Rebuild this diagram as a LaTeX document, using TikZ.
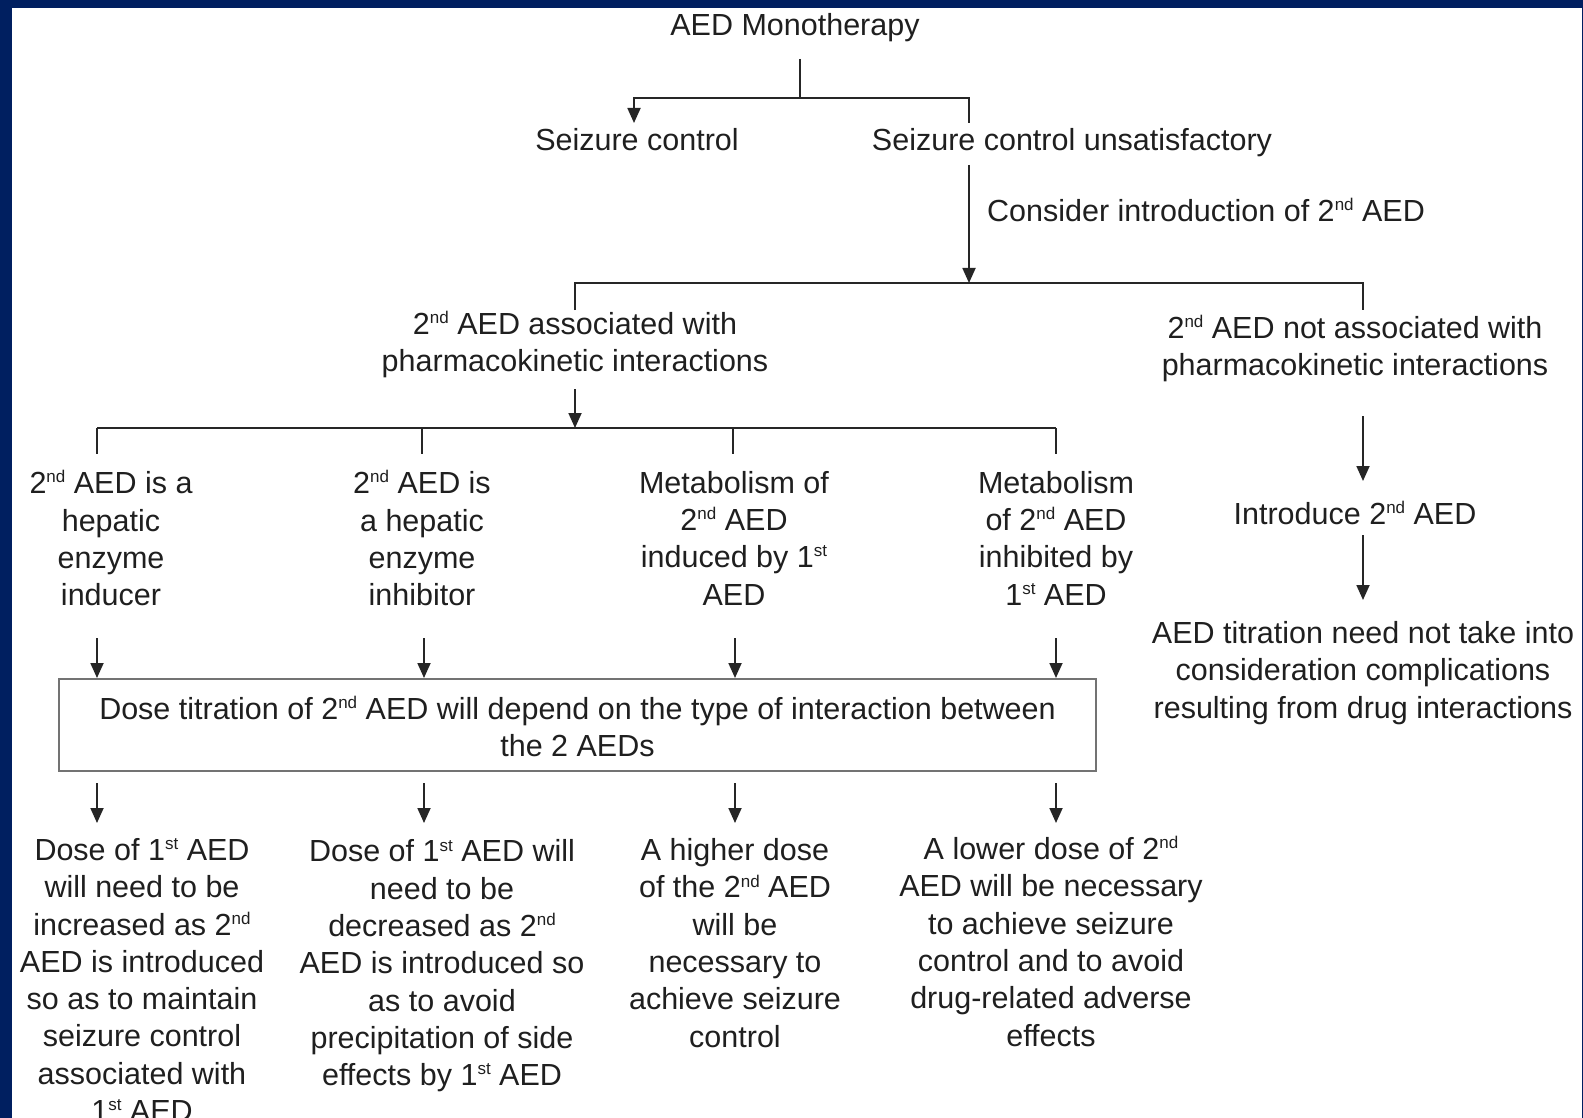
\documentclass[tikz,border=0pt]{standalone}
\usepackage{fontspec}
\setmainfont{Liberation Sans}
\usetikzlibrary{arrows.meta}
\newcommand{\supx}[1]{\smash{\raisebox{0.68ex}{\fontsize{17}{17}\selectfont #1}}}
\newcommand{\ndx}{\supx{nd}}
\newcommand{\stx}{\supx{st}}
\definecolor{navyframe}{RGB}{0,31,96}
\begin{document}
\begin{tikzpicture}[x=1pt,y=-1pt,
  txt/.style={align=center,inner sep=0pt,font=\fontsize{30.5}{37.3}\selectfont,text=black!88},
  ln/.style={line width=1.8pt,draw=black!85},
  arr/.style={ln,-{Triangle[length=15pt,width=13pt]}},
  boxstyle/.style={draw=black!55,line width=1.3pt,minimum width=1037pt,minimum height=92pt}]
\useasboundingbox (0,0) rectangle (1583,1118);
\fill[navyframe] (0,0) rectangle (1583,1118);
\fill[white] (12,8) rectangle (1582,1118);

% text nodes
\node[txt] (mono) at (795,28) {AED Monotherapy};
\node[txt] (sc) at (637,140) {Seizure control};
\node[txt] (scu) at (1072,143) {Seizure control unsatisfactory};
\node[txt,anchor=west] (cons) at (987,211) {Consider introduction of 2\ndx\ AED};
\node[txt] (assoc) at (575,345) {2\ndx\ AED associated with\\pharmacokinetic interactions};
\node[txt] (notassoc) at (1355,349) {2\ndx\ AED not associated with\\pharmacokinetic interactions};
\node[txt] (c1) at (111,539) {2\ndx\ AED is a\\hepatic\\enzyme\\inducer};
\node[txt] (c2) at (422,539) {2\ndx\ AED is\\a hepatic\\enzyme\\inhibitor};
\node[txt] (c3) at (734,538) {Metabolism of\\2\ndx\ AED\\induced by 1\stx\\AED};
\node[txt] (c4) at (1056,538) {Metabolism\\of 2\ndx\ AED\\inhibited by\\1\stx\ AED};
\node[txt,boxstyle] (box) at (577.5,725) {};
\node[txt] (boxtext) at (577.5,727) {Dose titration of 2\ndx\ AED will depend on the type of interaction between\\the 2 AEDs};
\node[txt] (intro) at (1355,514) {Introduce 2\ndx\ AED};
\node[txt] (titr) at (1363,673) {AED titration need not take into\\consideration complications\\resulting from drug interactions};
\node[txt] (d1) at (142,980) {Dose of 1\stx\ AED\\will need to be\\increased as 2\ndx\\AED is introduced\\so as to maintain\\seizure control\\associated with\\1\stx\ AED};
\node[txt] (d2) at (442,966) {Dose of 1\stx\ AED will\\need to be\\decreased as 2\ndx\\AED is introduced so\\as to avoid\\precipitation of side\\effects by 1\stx\ AED};
\node[txt] (d3) at (735,943) {A higher dose\\of the 2\ndx\ AED\\will be\\necessary to\\achieve seizure\\control};
\node[txt] (d4) at (1051,942) {A lower dose of 2\ndx\\AED will be necessary\\to achieve seizure\\control and to avoid\\drug-related adverse\\effects};

% junction coordinates
\coordinate (t1) at (800,59);
\coordinate (j1) at (800,98);
\coordinate (scin) at (634,123);
\coordinate (scuin) at (969,123);
\coordinate (scuout) at (969,165);
\coordinate (j2) at (969,283);
\coordinate (h2L) at (575,283);
\coordinate (h2R) at (1363,283);
\coordinate (aIn) at (575,310);
\coordinate (nIn) at (1363,310);
\coordinate (aOut) at (575,389);
\coordinate (j3) at (575,428);
\coordinate (h3L) at (97,428);
\coordinate (h3R) at (1056,428);

% connectors
\draw[ln] (t1) -- (j1);
\draw[arr] (j1) -| (scin);
\draw[ln] (j1) -| (scuin);
\draw[arr] (scuout) -- (j2);
\draw[ln] (aIn) -- (h2L) -- (h2R) -- (nIn);
\draw[arr] (aOut) -- (j3);
\draw[ln] (h3L) -- (h3R);
\foreach \x/\n in {97/1,422/2,733/3,1056/4}{
  \coordinate (dr\n) at (\x,454);
  \coordinate (dt\n) at (\x,428);
  \draw[ln] (dt\n) -- (dr\n);
}
\foreach \x/\n in {97/1,424/2,735/3,1056/4}{
  \coordinate (ua\n) at (\x,638);
  \coordinate (ub\n) at (\x,678);
  \draw[arr] (ua\n) -- (ub\n);
  \coordinate (la\n) at (\x,783);
  \coordinate (lb\n) at (\x,823);
  \draw[arr] (la\n) -- (lb\n);
}
\coordinate (r1a) at (1363,416);
\coordinate (r1b) at (1363,481);
\coordinate (r2a) at (1363,535);
\coordinate (r2b) at (1363,600);
\draw[arr] (r1a) -- (r1b);
\draw[arr] (r2a) -- (r2b);
\end{tikzpicture}
\end{document}
